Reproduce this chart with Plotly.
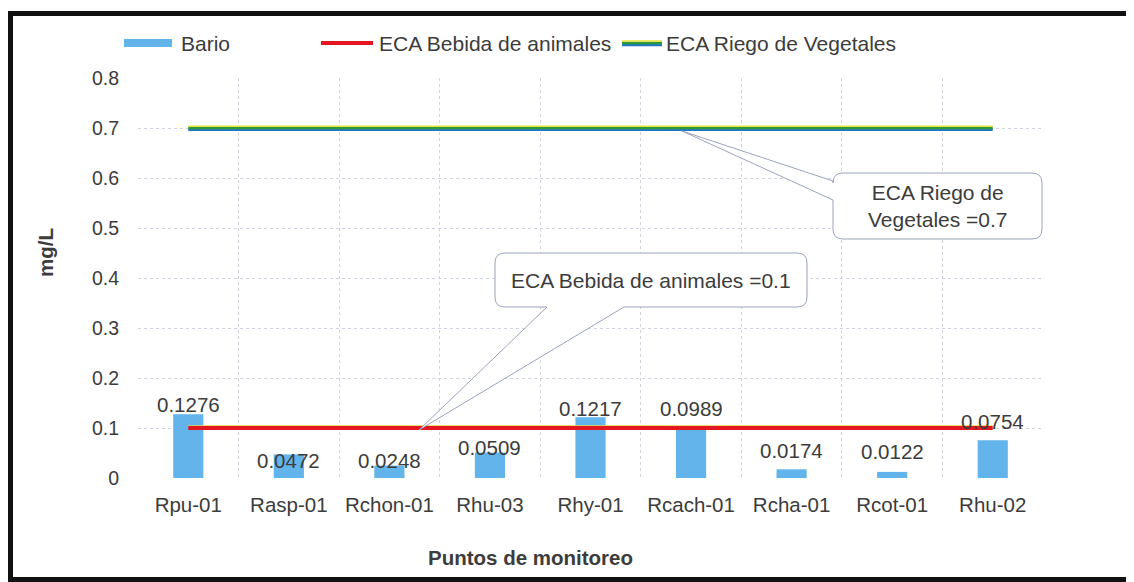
import plotly.graph_objects as go

# ---------------- data ----------------
categories = ["Rpu-01", "Rasp-01", "Rchon-01", "Rhu-03", "Rhy-01",
              "Rcach-01", "Rcha-01", "Rcot-01", "Rhu-02"]
bario = [0.1276, 0.0472, 0.0248, 0.0509, 0.1217, 0.0989, 0.0174, 0.0122, 0.0754]
eca_bebida = 0.1
eca_riego = 0.7
y_ticks = [0, 0.1, 0.2, 0.3, 0.4, 0.5, 0.6, 0.7, 0.8]
y_tick_labels = ["0", "0.1", "0.2", "0.3", "0.4", "0.5", "0.6", "0.7", "0.8"]
series_names = ["Bario", "ECA Bebida de animales", "ECA Riego de Vegetales"]
callout_texts = ["ECA Bebida de animales =0.1", "ECA Riego de<br>Vegetales =0.7"]
x_title = "Puntos de monitoreo"
y_title = "mg/L"

# ---------------- layout constants (screen pixels) ----------------
WIN_W, WIN_H = 1134, 582
OFF = 8                            # page body margin
L, R, T, B = 138, 1043, 78, 478    # plot area edges on screen
FONT = "Liberation Sans, Arial, sans-serif"
TXT = "#3c3c3c"
BAR_COLOR = "#62b4ea"
label_yshift = [10, -6, 5, 5, 9, 20, 19, 20, 19]


def px(x):
    return (x - L) / (R - L)


def py(y):
    return (B - y) / (B - T)


def pt(x, y):
    return f"{px(x):.5f},{py(y):.5f}"


def callout_path(x0, y0, x1, y1, r, side, base, tip):
    """Rounded rectangle with a wedge pointing to tip. side: 'bottom' or 'left'."""
    p = [f"M{pt(x0 + r, y0)}", f"L{pt(x1 - r, y0)}", f"Q{pt(x1, y0)} {pt(x1, y0 + r)}",
         f"L{pt(x1, y1 - r)}", f"Q{pt(x1, y1)} {pt(x1 - r, y1)}"]
    if side == "bottom":
        p += [f"L{pt(base[1], y1)}", f"L{pt(*tip)}", f"L{pt(base[0], y1)}"]
    p += [f"L{pt(x0 + r, y1)}", f"Q{pt(x0, y1)} {pt(x0, y1 - r)}"]
    if side == "left":
        p += [f"L{pt(x0, base[1])}", f"L{pt(*tip)}", f"L{pt(x0, base[0])}"]
    p += [f"L{pt(x0, y0 + r)}", f"Q{pt(x0, y0)} {pt(x0 + r, y0)}", "Z"]
    return " ".join(p)


def paper_text(x, y, text, size, **kw):
    d = dict(x=px(x), y=py(y), xref="paper", yref="paper", text=text, showarrow=False,
             xanchor="center", yanchor="middle",
             font=dict(family=FONT, size=size, color=TXT))
    d.update(kw)
    return d


fig = go.Figure()

# bars
fig.add_trace(go.Bar(x=categories, y=bario, name=series_names[0], width=0.3,
                     marker=dict(color=BAR_COLOR, line=dict(width=0)),
                     showlegend=False))

n = len(categories)
# ECA bebida line (red with thin yellow fringe)
fig.add_trace(go.Scatter(x=categories, y=[eca_bebida + 0.004] * n, mode="lines",
                         line=dict(color="#e9d24a", width=1.5), showlegend=False,
                         hoverinfo="skip"))
fig.add_trace(go.Scatter(x=categories, y=[eca_bebida] * n, mode="lines",
                         name=series_names[1], line=dict(color="#e3171f", width=4),
                         showlegend=False))

# ECA riego line (blue / green / yellow stripes)
fig.add_trace(go.Scatter(x=categories, y=[eca_riego - 0.0035] * n, mode="lines",
                         line=dict(color="#1f78c4", width=2.5), showlegend=False,
                         hoverinfo="skip"))
fig.add_trace(go.Scatter(x=categories, y=[eca_riego] * n, mode="lines",
                         name=series_names[2], line=dict(color="#2f9a3c", width=2.5),
                         showlegend=False))
fig.add_trace(go.Scatter(x=categories, y=[eca_riego + 0.0035] * n, mode="lines",
                         line=dict(color="#e4e23a", width=1.5), showlegend=False,
                         hoverinfo="skip"))

annotations = []
# data labels
for c, v, s in zip(categories, bario, label_yshift):
    annotations.append(dict(x=c, y=v, xref="x", yref="y", text=f"{v:.4f}",
                            showarrow=False, xanchor="center", yanchor="middle", yshift=s,
                            font=dict(family=FONT, size=20.5, color=TXT)))

shapes = []
# outer black frame
shapes.append(dict(type="rect", xref="paper", yref="paper",
                   x0=px(10.5), x1=px(1160), y0=py(13.5), y1=py(579.5),
                   line=dict(color="#111111", width=5), fillcolor="rgba(0,0,0,0)",
                   layer="above"))

# manual legend
legend_y = 43
shapes.append(dict(type="rect", xref="paper", yref="paper",
                   x0=px(124), x1=px(172), y0=py(39), y1=py(47),
                   fillcolor=BAR_COLOR, line=dict(width=0)))
shapes.append(dict(type="line", xref="paper", yref="paper",
                   x0=px(321), x1=px(373), y0=py(legend_y), y1=py(legend_y),
                   line=dict(color="#e3171f", width=4)))
shapes.append(dict(type="line", xref="paper", yref="paper",
                   x0=px(622), x1=px(662), y0=py(legend_y + 2), y1=py(legend_y + 2),
                   line=dict(color="#1f78c4", width=2.5)))
shapes.append(dict(type="line", xref="paper", yref="paper",
                   x0=px(622), x1=px(662), y0=py(legend_y), y1=py(legend_y),
                   line=dict(color="#2f9a3c", width=2.5)))
shapes.append(dict(type="line", xref="paper", yref="paper",
                   x0=px(622), x1=px(662), y0=py(legend_y - 2), y1=py(legend_y - 2),
                   line=dict(color="#e4e23a", width=1.5)))
for name, x in zip(series_names, [179, 377, 664]):
    annotations.append(paper_text(x, legend_y, name, 21, xanchor="left"))

# callouts
shapes.append(dict(type="path", xref="paper", yref="paper",
                   path=callout_path(495, 253, 807, 307, 10, "bottom", (547, 624), (419, 430)),
                   fillcolor="white", line=dict(color="#9aa3bd", width=1), layer="above"))
shapes.append(dict(type="path", xref="paper", yref="paper",
                   path=callout_path(833, 173, 1042, 239, 10, "left", (181, 200), (682, 131)),
                   fillcolor="white", line=dict(color="#9aa3bd", width=1), layer="above"))
annotations.append(paper_text(651, 280, callout_texts[0], 21))
annotations.append(paper_text(937.5, 206, callout_texts[1], 21))

# axis titles
annotations.append(paper_text(530, 557, f"<b>{x_title}</b>", 20.5))
annotations.append(paper_text(45, 253, f"<b>{y_title}</b>", 20.5, textangle=-90))

fig.update_layout(
    width=WIN_W - OFF, height=WIN_H - OFF, autosize=False,
    margin=dict(l=L - OFF, r=WIN_W - R, t=T - OFF, b=WIN_H - B, pad=0),
    paper_bgcolor="white", plot_bgcolor="white",
    showlegend=False, bargap=0.7,
    annotations=annotations, shapes=shapes,
    font=dict(family=FONT, size=20, color=TXT),
)
fig.update_xaxes(type="category", tickson="boundaries", showgrid=True,
                 gridcolor="#cfd3dd", griddash="dot", gridwidth=1,
                 ticks="", showline=False, zeroline=False,
                 ticklabelstandoff=12,
                 tickfont=dict(family=FONT, size=20.5, color=TXT),
                 range=[-0.5, len(categories) - 0.5])
fig.update_yaxes(range=[0, 0.8], tickvals=y_ticks, ticktext=y_tick_labels,
                 showgrid=True, gridcolor="#cfd3dd", griddash="dot", gridwidth=1,
                 ticks="", showline=False, zeroline=False,
                 ticklabelstandoff=18,
                 tickfont=dict(family=FONT, size=19.5, color=TXT))

fig.write_html("out.html")
